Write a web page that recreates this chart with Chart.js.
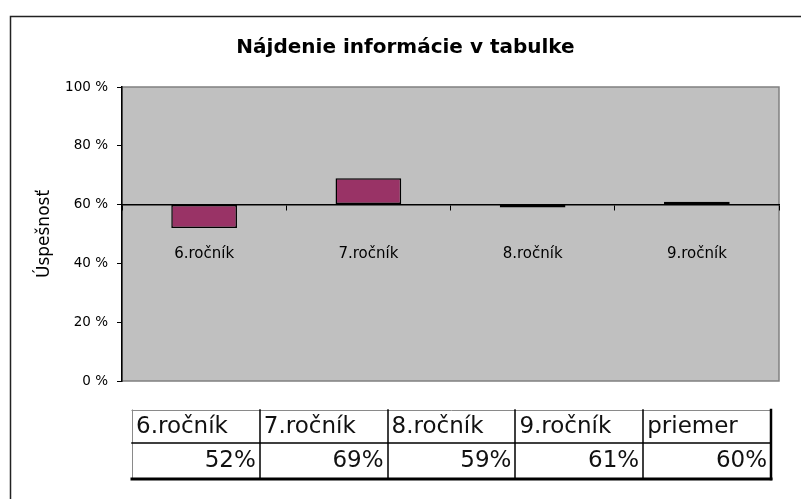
<!DOCTYPE html>
<html><head><meta charset="utf-8">
<script src="https://cdn.jsdelivr.net/npm/chart.js@4/dist/chart.umd.min.js"></script>
<style>html,body{margin:0;padding:0;background:#fff}</style>
</head><body>
<canvas id="c" width="801" height="499"></canvas>
<script>
const chartTitle = 'Nájdenie informácie v tabulke';
const axisTitle = 'Úspešnosť';
const categories = ['6.ročník', '7.ročník', '8.ročník', '9.ročník'];
const values = [52, 69, 59, 61];
const baseline = 60;
const yTicks = [0, 20, 40, 60, 80, 100];
const tableLabels = ['6.ročník', '7.ročník', '8.ročník', '9.ročník', 'priemer'];
const tableValues = [52, 69, 59, 61, 60];

const decor = {
  id: 'decor',
  beforeDraw(chart) {
    const ctx = chart.ctx, a = chart.chartArea;
    ctx.save();
    ctx.fillStyle = '#fff';
    ctx.fillRect(0, 0, chart.width, chart.height);
    // outer frame
    ctx.strokeStyle = '#222';
    ctx.lineWidth = 1.5;
    ctx.beginPath();
    ctx.moveTo(10.5, chart.height);
    ctx.lineTo(10.5, 16.5);
    ctx.lineTo(chart.width, 16.5);
    ctx.stroke();
    // plot area
    ctx.fillStyle = '#c0c0c0';
    ctx.fillRect(a.left, a.top, a.right - a.left, a.bottom - a.top);
    ctx.strokeStyle = '#808080';
    ctx.lineWidth = 1.5;
    ctx.strokeRect(a.left, a.top, a.right - a.left, a.bottom - a.top);
    ctx.restore();
  },
  afterDraw(chart) {
    const ctx = chart.ctx;
    const L = 132, R = 771, T = 410, M = 443, B = 479;
    const n = tableLabels.length;
    const w = (R - L) / n;
    ctx.save();
    ctx.fillStyle = '#fff';
    ctx.fillRect(L, T, R - L, B - T);
    ctx.lineCap = 'square';
    // top & left thin gray
    ctx.strokeStyle = '#8a8a8a';
    ctx.lineWidth = 1;
    ctx.beginPath();
    ctx.moveTo(L, T + 0.5); ctx.lineTo(R, T + 0.5);
    ctx.moveTo(L + 0.5, T); ctx.lineTo(L + 0.5, B);
    ctx.stroke();
    // inner lines
    ctx.strokeStyle = '#000';
    ctx.lineWidth = 1.5;
    ctx.beginPath();
    ctx.moveTo(L, M); ctx.lineTo(R, M);
    for (let i = 1; i < n; i++) {
      const x = Math.round(L + i * w);
      ctx.moveTo(x, T); ctx.lineTo(x, B);
    }
    ctx.stroke();
    // thick bottom & right
    ctx.lineWidth = 3;
    ctx.beginPath();
    ctx.moveTo(L, B); ctx.lineTo(R, B);
    ctx.stroke();
    ctx.lineWidth = 2.5;
    ctx.beginPath();
    ctx.moveTo(R, T); ctx.lineTo(R, B);
    ctx.stroke();
    // texts
    ctx.fillStyle = '#111';
    ctx.font = '23px "DejaVu Sans"';
    ctx.textBaseline = 'middle';
    for (let i = 0; i < n; i++) {
      const x0 = L + i * w, x1 = L + (i + 1) * w;
      ctx.textAlign = 'left';
      ctx.fillText(tableLabels[i], x0 + 4, (T + M) / 2 + 1);
      ctx.textAlign = 'right';
      ctx.fillText(tableValues[i] + '%', x1 - 4, (M + B) / 2);
    }
    ctx.restore();
  }
};

new Chart(document.getElementById('c'), {
  type: 'bar',
  data: {
    labels: categories,
    datasets: [{
      data: values,
      base: baseline,
      backgroundColor: '#993366',
      borderColor: '#000',
      borderWidth: 1.5,
      borderSkipped: false,
      barPercentage: 0.4,
      categoryPercentage: 1
    }]
  },
  options: {
    responsive: false,
    animation: false,
    layout: { padding: { left: 32, right: 22, top: 0, bottom: 118 } },
    plugins: {
      legend: { display: false },
      tooltip: { enabled: false },
      title: {
        display: true,
        text: chartTitle,
        color: '#000',
        font: { family: 'DejaVu Sans', size: 20, weight: 'bold' },
        padding: { top: 36, bottom: 27 }
      }
    },
    scales: {
      x: {
        position: { y: baseline },
        z: 1,
        grid: { drawOnChartArea: false, drawTicks: true, tickLength: 5, color: '#000', offset: true },
        border: { color: '#000', width: 1.5 },
        ticks: { color: '#000', font: { family: 'DejaVu Sans', size: 15 }, padding: 36, maxRotation: 0 }
      },
      y: {
        min: 0,
        max: 100,
        afterBuildTicks: s => { s.ticks = yTicks.map(v => ({ value: v })); },
        afterFit: s => { s.width = 90; },
        grid: { drawOnChartArea: false, drawTicks: true, tickLength: 5, color: '#000' },
        border: { color: '#000', width: 1.5 },
        ticks: { color: '#000', font: { family: 'DejaVu Sans', size: 13.5 }, padding: 9, callback: v => v + ' %' },
        title: { display: true, text: axisTitle, color: '#000', font: { family: 'DejaVu Sans', size: 17 }, padding: { top: 2, bottom: 0 } }
      }
    }
  },
  plugins: [decor]
});
</script>
</body></html>
